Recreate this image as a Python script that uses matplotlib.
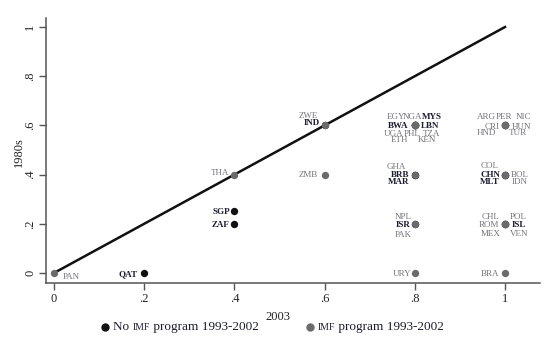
import matplotlib
matplotlib.use('Agg')
import matplotlib.pyplot as plt
from matplotlib.lines import Line2D
from matplotlib.offsetbox import TextArea, HPacker, AnchoredOffsetbox

plt.rcParams['font.family'] = ['Liberation Serif', 'DejaVu Serif']

# 数据: 国家代码, 2003 年值, 1980s 值, 是否有 IMF 项目
countries = ['PAN', 'QAT', 'URY', 'BRA', 'SGP', 'ZAF',
             'NPL', 'ISR', 'PAK', 'CHL', 'POL', 'ROM', 'ISL', 'MEX', 'VEN',
             'THA', 'ZMB', 'GHA', 'BRB', 'MAR',
             'COL', 'CHN', 'BOL', 'MLT', 'IDN',
             'ZWE', 'IND',
             'EGY', 'NGA', 'MYS', 'BWA', 'LBN', 'UGA', 'PHL', 'TZA', 'ETH', 'KEN',
             'ARG', 'PER', 'NIC', 'CRI', 'HUN', 'HND', 'TUR']
x2003 = [0, .2, .8, 1, .4, .4,
         .8, .8, .8, 1, 1, 1, 1, 1, 1,
         .4, .6, .8, .8, .8,
         1, 1, 1, 1, 1,
         .6, .6,
         .8, .8, .8, .8, .8, .8, .8, .8, .8, .8,
         1, 1, 1, 1, 1, 1, 1]
y1980s = [0, 0, 0, 0, .25, .2,
          .2, .2, .2, .2, .2, .2, .2, .2, .2,
          .4, .4, .4, .4, .4,
          .4, .4, .4, .4, .4,
          .6, .6,
          .6, .6, .6, .6, .6, .6, .6, .6, .6, .6,
          .6, .6, .6, .6, .6, .6, .6]
imf = [1, 0, 1, 1, 0, 0,
       1, 0, 1, 1, 1, 1, 0, 1, 1,
       1, 1, 1, 0, 0,
       1, 0, 1, 0, 1,
       1, 0,
       1, 1, 0, 0, 0, 1, 1, 1, 1, 1,
       1, 1, 1, 1, 1, 1, 1]

# 标签相对点的偏移 (像素), 只是排版
offsets = {
    'PAN': (17, -3), 'QAT': (-16.5, 0), 'URY': (-13, 0), 'BRA': (-15, 0),
    'SGP': (-13.5, 0), 'ZAF': (-13.5, 0),
    'NPL': (-12, 8), 'ISR': (-11.5, 0), 'PAK': (-12, -10),
    'CHL': (-14, 8), 'POL': (13, 8), 'ROM': (-16, 0), 'ISL': (14, 0),
    'MEX': (-14, -9), 'VEN': (14, -9),
    'THA': (-14.5, 2), 'ZMB': (-16, 0),
    'GHA': (-18, 8), 'BRB': (-15, 0), 'MAR': (-16, -7),
    'COL': (-15.5, 9.5), 'CHN': (-15, 0), 'BOL': (15, 0), 'MLT': (-15, -7), 'IDN': (15, -7),
    'ZWE': (-16, 10), 'IND': (-13, 3),
    'EGY': (-19, 9), 'NGA': (-2.5, 9), 'MYS': (17.5, 9), 'BWA': (-17, 0), 'LBN': (15, 0),
    'UGA': (-21, -8), 'PHL': (-2.5, -8), 'TZA': (16.5, -8), 'ETH': (-15, -14), 'KEN': (12, -14),
    'ARG': (-18.5, 9), 'PER': (-1, 9), 'NIC': (18, 9), 'CRI': (-13, -0.5), 'HUN': (16, -0.5),
    'HND': (-18.5, -7), 'TUR': (12.5, -7),
}

W, H = 555, 347
fig = plt.figure(figsize=(W / 100, H / 100), dpi=100)
ax = fig.add_axes([46 / W, 1 - 283 / H, (540 - 46) / W, (283 - 18) / H])
ax.set_xlim(-0.0177, 1.0776)
ax.set_ylim(-0.0407, 1.0366)

# 45 度线
ax.plot([0, 1], [0, 1], color='#111111', lw=1.8, zorder=2)

gray = '#6b6b6b'
dark = '#111111'
xb = [x for x, f in zip(x2003, imf) if not f]
yb = [y for y, f in zip(y1980s, imf) if not f]
xg = [x for x, f in zip(x2003, imf) if f]
yg = [y for y, f in zip(y1980s, imf) if f]
ax.scatter(xb, yb, s=28, color=dark, zorder=3, linewidths=0)
ax.scatter(xg, yg, s=28, color=gray, zorder=4, linewidths=0)

for c, x, y, f in zip(countries, x2003, y1980s, imf):
    dx, dy = offsets[c]
    ax.annotate(c, (x, y), xytext=(dx, dy - 2.8), textcoords='offset pixels',
                ha='center', va='baseline', fontsize=6.5,
                color='#74747e' if f else '#1c1c30',
                fontweight='normal' if f else 'bold', zorder=5)

for s in ['top', 'right']:
    ax.spines[s].set_visible(False)
for s in ['left', 'bottom']:
    ax.spines[s].set_color('#555555')
    ax.spines[s].set_linewidth(1.1)

ticks = [0, .2, .4, .6, .8, 1]
tick_labels = ['0', '.2', '.4', '.6', '.8', '1']
ax.set_xticks(ticks)
ax.set_xticklabels(tick_labels)
ax.set_yticks(ticks)
ax.set_yticklabels(tick_labels, rotation=90, va='center')
ax.tick_params(length=5, width=1, color='#555555', labelsize=9, labelcolor='#222222')
ax.tick_params(axis='x', pad=2)
ax.tick_params(axis='y', pad=2)

fig.text(278 / W, 1 - 317 / H, '2003', ha='center', va='center', fontsize=9, color='#222222')
fig.text(19 / W, 1 - 152 / H, '1980s', ha='center', va='center', rotation=90,
         fontsize=9, color='#222222')


def legend_item(xpx, ypx, color, pieces):
    fig.add_artist(Line2D([xpx / W], [1 - ypx / H], marker='o', markersize=5,
                          color=color, transform=fig.transFigure, linestyle=''))
    areas = [TextArea(t, textprops=dict(fontsize=sz, color='#1c1c30')) for t, sz in pieces]
    box = HPacker(children=areas, align='baseline', pad=0, sep=0)
    anc = AnchoredOffsetbox(loc='center left', child=box, pad=0, borderpad=0, frameon=False,
                            bbox_to_anchor=((xpx + 8) / W, 1 - ypx / H),
                            bbox_transform=fig.transFigure)
    fig.add_artist(anc)


legend_item(105, 327, dark, [('No ', 9.5), ('IMF', 7), (' program 1993-2002', 9.5)])
legend_item(310, 327, gray, [('IMF', 7), (' program 1993-2002', 9.5)])

fig.savefig('out.png', dpi=100)
